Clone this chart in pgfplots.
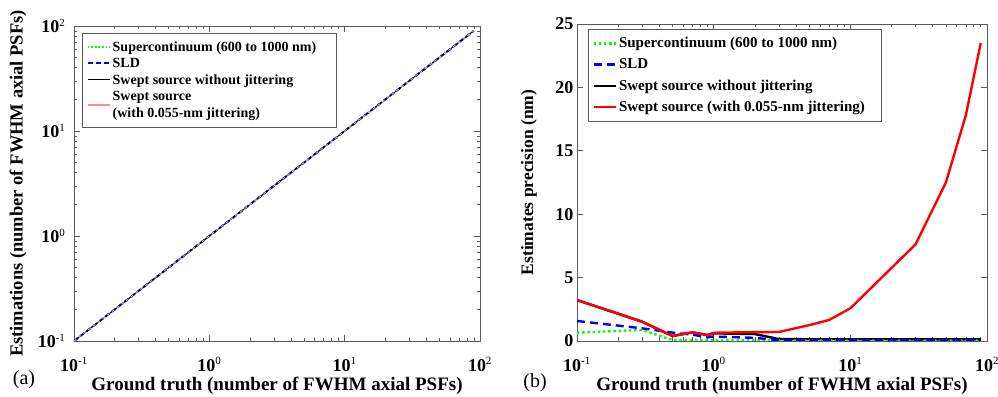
\documentclass[border=0pt]{standalone}
\usepackage{fontspec}
\setmainfont{Liberation Serif}
\usepackage{pgfplots}
\pgfplotsset{compat=1.18}
\definecolor{mgreen}{rgb}{0,1,0}
\definecolor{mblue}{rgb}{0,0,1}
\definecolor{mred}{rgb}{1,0,0}
\definecolor{mpink}{rgb}{1,0.55,0.55}
\definecolor{axgray}{rgb}{0.35,0.35,0.35}
\newcommand{\sexp}[1]{\textsuperscript{\mdseries\fontsize{11}{11}\selectfont #1}}
\pgfplotsset{
  common/.style={
    scale only axis,
    axis line style={axgray, line width=0.8pt},
    tick style={axgray, line width=0.6pt},
    major tick length=6pt, minor tick length=3.5pt,
    tick align=inside,
    xtick pos=both, ytick pos=both,
    ticklabel style={font=\fontsize{18}{18}\selectfont\bfseries},
    xticklabel style={yshift=-13pt},
    label style={font=\fontsize{19}{19}\selectfont\bfseries},
    /pgf/number format/assume math mode=true,
    xmin=0.1, xmax=100,
    xtick={0.1,1,10,100},
    xticklabels={10\sexp{-1},10\sexp{0},10\sexp{1},10\sexp{2}},
    xlabel={Ground truth (number of FWHM axial PSFs)},
    xlabel style={at={(axis description cs:0.5,-0.143)}, anchor=center},
    legend cell align=left,
    legend style={draw=axgray, line width=0.8pt, nodes={align=left}, anchor=north west, inner sep=4pt},
    legend image post style={xscale=1.3},
  }
}
\begin{document}
\begin{tikzpicture}[x=1pt,y=1pt]
\useasboundingbox (0,0) rectangle (998,396);
\begin{loglogaxis}[common, at={(74pt,55pt)}, anchor=south west,
  width=406pt, height=315pt,
  ymin=0.1, ymax=100,
  ytick={0.1,1,10,100},
  yticklabels={10\sexp{-1},10\sexp{0},10\sexp{1},10\sexp{2}},
  yticklabel style={xshift=-5pt},
  ylabel={Estimations (number of FWHM axial PSFs)},
  ylabel style={at={(axis description cs:-0.138,0.5)}, anchor=center, font=\fontsize{18.5}{18.5}\selectfont\bfseries},
  legend style={at={(0.02,0.978)}, font=\fontsize{14}{17.5}\selectfont\bfseries, row sep=1.5pt, inner ysep=6pt},
]
\addplot[mgreen, line width=1.8pt, dash pattern=on 1.8pt off 1.8pt] coordinates {(0.1,0.1)(0.3,0.3)(0.5,0.5)(0.7,0.7)(0.9,0.9)(1,1)(2,2)(3,3)(5,5)(7,7)(10,10)(30,30)(50,50)(70,70)(90,90)};
\addlegendentry{Supercontinuum (600 to 1000 nm)\hspace*{14pt}}
\addplot[mblue, line width=2pt, dash pattern=on 5pt off 3pt] coordinates {(0.1,0.1)(0.3,0.3)(0.5,0.5)(0.7,0.7)(0.9,0.9)(1,1)(2,2)(3,3)(5,5)(7,7)(10,10)(30,30)(50,50)(70,70)(90,90)};
\addlegendentry{SLD}
\addplot[black, line width=1pt] coordinates {(0.1,0.1)(0.3,0.3)(0.5,0.5)(0.7,0.7)(0.9,0.9)(1,1)(2,2)(3,3)(5,5)(7,7)(10,10)(30,30)(50,50)(70,70)(90,90)};
\addlegendentry{Swept source without jittering}
\addplot[mpink, line width=1pt, dash pattern=on 3pt off 3pt, forget plot] coordinates {(0.1,0.1)(0.3,0.3)(0.5,0.5)(0.7,0.7)(0.9,0.9)(1,1)(2,2)(3,3)(5,5)(7,7)(10,10)(30,30)(50,50)(70,70)(90,90)};
\addlegendimage{mpink, line width=1.5pt}
\addlegendentry{Swept source\\(with 0.055-nm jittering)}
\end{loglogaxis}
\begin{semilogxaxis}[common, at={(577pt,55pt)}, anchor=south west,
  width=410pt, height=317pt,
  ymin=0, ymax=25, ytick={0,5,10,15,20,25},
  ylabel={Estimates precision (nm)},
  ylabel style={at={(axis description cs:-0.117,0.5)}, anchor=center, font=\fontsize{17.5}{17.5}\selectfont\bfseries},
  legend style={at={(0.027,0.984)}, font=\fontsize{15}{17}\selectfont\bfseries, row sep=5.5pt, inner ysep=6pt},
]
\addplot[black, line width=2.4pt, forget plot] coordinates {(0.1,3.23)(0.3,1.52)(0.5,0.39)(0.7,0.68)(0.9,0.47)(1,0.6)(2,0.55)(3,0.15)(5,0.14)(7,0.14)(10,0.14)(30,0.13)(50,0.13)(70,0.13)(90,0.13)};
\addplot[mgreen, line width=2.4pt, dash pattern=on 2.4pt off 2.8pt] coordinates {(0.1,0.66)(0.3,0.87)(0.5,0.08)(0.7,0.06)(0.9,0.05)(1,0.05)(2,0.05)(3,0.04)(5,0.04)(7,0.04)(10,0.04)(30,0.04)(50,0.04)(70,0.04)(90,0.04)};
\addlegendentry{Supercontinuum (600 to 1000 nm)}
\addplot[mblue, line width=2.4pt, dash pattern=on 8pt off 5pt] coordinates {(0.1,1.58)(0.3,1.0)(0.5,0.66)(0.7,0.5)(0.9,0.29)(1,0.35)(2,0.25)(3,0.06)(5,0.05)(7,0.05)(10,0.05)(30,0.05)(50,0.05)(70,0.05)(90,0.05)};
\addlegendentry{SLD}
\addlegendimage{black, line width=2.4pt}
\addlegendentry{Swept source without jittering}
\addplot[mred, line width=2.4pt] coordinates {(0.1,3.23)(0.3,1.52)(0.5,0.39)(0.7,0.68)(0.9,0.47)(1,0.65)(2,0.7)(3,0.71)(5,1.25)(7,1.66)(10,2.58)(30,7.62)(50,12.5)(70,17.8)(90,23.5)};
\addlegendentry{Swept source (with 0.055-nm jittering)\hspace*{10pt}}
\end{semilogxaxis}
\node[font=\fontsize{20}{20}\selectfont] at (24,16) {(a)};
\node[font=\fontsize{20}{20}\selectfont] at (535,13) {(b)};
\end{tikzpicture}
\end{document}
